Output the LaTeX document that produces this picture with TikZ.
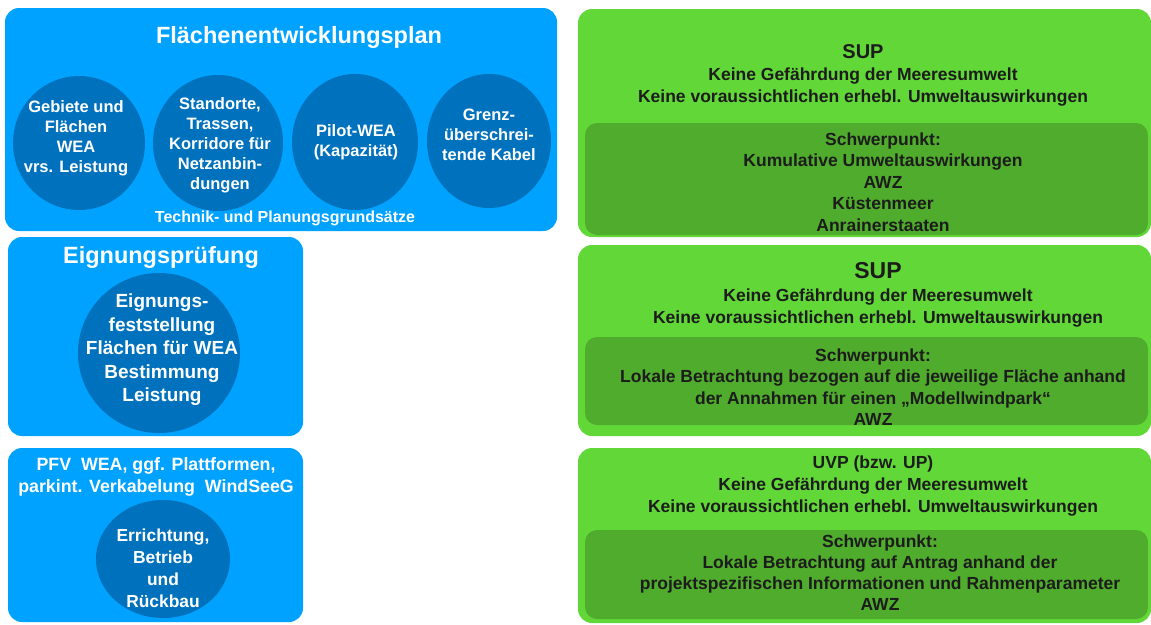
\documentclass[tikz,border=0pt]{standalone}
\usepackage{fontspec}
\setmainfont{Liberation Sans}
\usetikzlibrary{shapes.geometric}
\definecolor{bluebox}{HTML}{00A2FF}
\definecolor{bluecirc}{HTML}{0072BD}
\definecolor{greenbox}{HTML}{62D838}
\definecolor{greenin}{HTML}{4FAC2C}
\definecolor{gtext}{HTML}{1C1C1C}
\tikzset{
  bbox/.style={fill=bluebox, rounded corners=14pt},
  gbox/.style={fill=greenbox, rounded corners=14pt},
  ginbox/.style={fill=greenin, rounded corners=12pt},
  ell/.style={ellipse, fill=bluecirc, inner sep=0pt},
  wt/.style={text=white, align=center, inner sep=0pt, font=\bfseries\fontsize{16.5}{20}\selectfont},
  wtitle/.style={text=white, align=center, inner sep=0pt, font=\bfseries\fontsize{23.5}{27}\selectfont},
  gt/.style={text=gtext, align=center, inner sep=0pt, font=\bfseries\fontsize{17.5}{22}\selectfont},
}
\begin{document}
\begin{tikzpicture}[x=1pt,y=-1pt]
\useasboundingbox (0,0) rectangle (1151,624);
% blue boxes
\path[bbox] (5,8) rectangle (557,231);
\path[bbox] (8,237) rectangle (303,436);
\path[bbox] (8,448) rectangle (303,622);
% green boxes
\path[gbox] (578,9) rectangle (1151,237);
\path[ginbox] (585,123) rectangle (1148,235);
\path[gbox] (578,245) rectangle (1151,436);
\path[ginbox] (585,337) rectangle (1148,425);
\path[gbox] (578,448) rectangle (1151,623);
\path[ginbox] (585,530) rectangle (1148,619);

% Flaechenentwicklungsplan
\node[wtitle] (fep) at (299,37) {Flächenentwicklungsplan};
\node[ell, minimum width=132pt, minimum height=134pt] (e1) at (79,143) {};
\node[ell, minimum width=130pt, minimum height=136pt] (e2) at (218,143) {};
\node[ell, minimum width=126pt, minimum height=136pt] (e3) at (355,142) {};
\node[ell, minimum width=124pt, minimum height=134pt] (e4) at (489,141) {};
\node[wt] (t1) at (76,138) {Gebiete und\\Flächen\\WEA\\vrs. Leistung};
\node[wt] (t2) at (220,145) {Standorte,\\Trassen,\\Korridore für\\Netzanbin-\\dungen};
\node[wt] (t3) at (356,142) {Pilot-WEA\\(Kapazität)};
\node[wt] (t4) at (489,135) {Grenz-\\überschrei-\\tende Kabel};
\node[wt, font=\bfseries\fontsize{16}{20}\selectfont] (tech) at (285,218) {Technik- und Planungsgrundsätze};

% Eignungspruefung
\node[wtitle] (eig) at (161,257) {Eignungsprüfung};
\node[ell, minimum width=162pt, minimum height=160pt] (e5) at (159,353) {};
\node[wt, font=\bfseries\fontsize{19}{23.5}\selectfont] (t5) at (162,350) {Eignungs-\\feststellung\\Flächen für WEA\\Bestimmung\\Leistung};

% PFV
\node[wt, font=\bfseries\fontsize{17.8}{22}\selectfont] (pfv) at (156,477) {PFV~~WEA, ggf. Plattformen,\\parkint. Verkabelung~~WindSeeG};
\node[ell, minimum width=134pt, minimum height=118pt] (e6) at (163,559) {};
\node[wt, font=\bfseries\fontsize{17.4}{22}\selectfont] (t6) at (163,568) {Errichtung,\\Betrieb\\und\\Rückbau};

% green texts
\node[gt, font=\bfseries\fontsize{20}{22}\selectfont] (sup1) at (863,52) {SUP};
\node[gt] (g1a) at (863,87) {Keine Gefährdung der Meeresumwelt\\Keine voraussichtlichen erhebl. Umweltauswirkungen};
\node[gt, font=\bfseries\fontsize{17.5}{21.5}\selectfont] (g1b) at (883,182) {Schwerpunkt:\\Kumulative Umweltauswirkungen\\AWZ\\Küstenmeer\\Anrainerstaaten};

\node[gt, font=\bfseries\fontsize{23}{22}\selectfont] (sup2) at (878,271) {SUP};
\node[gt] (g2a) at (878,308) {Keine Gefährdung der Meeresumwelt\\Keine voraussichtlichen erhebl. Umweltauswirkungen};
\node[gt, font=\bfseries\fontsize{17.5}{21.5}\selectfont] (g2b) at (873,387) {Schwerpunkt:\\Lokale Betrachtung bezogen auf die jeweilige Fläche anhand\\der Annahmen für einen „Modellwindpark“\\AWZ};

\node[gt] (g3a) at (873,486) {UVP (bzw. UP)\\Keine Gefährdung der Meeresumwelt\\Keine voraussichtlichen erhebl. Umweltauswirkungen};
\node[gt, font=\bfseries\fontsize{17.5}{21}\selectfont] (g3b) at (880,573) {Schwerpunkt:\\Lokale Betrachtung auf Antrag anhand der\\projektspezifischen Informationen und Rahmenparameter\\AWZ};
\end{tikzpicture}
\end{document}
